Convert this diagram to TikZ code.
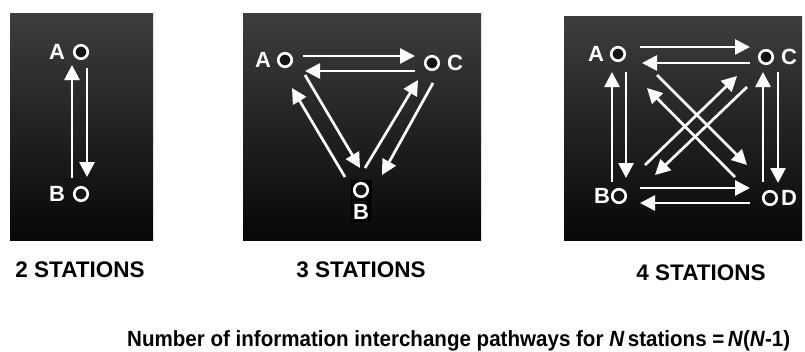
\documentclass[tikz,border=0pt]{standalone}
\usepackage{fontspec}
\setmainfont{Liberation Sans}
\usepackage{graphicx}
\usetikzlibrary{arrows.meta,calc}
\tikzset{
  panel/.style={draw=none, top color=black!76, bottom color=black!97, inner sep=0pt},
  stn/.style={circle, draw=white, line width=2.6pt, fill=black!92, minimum size=13.5pt, inner sep=0pt},
  lbl/.style={text=white, font=\bfseries\fontsize{22}{22}\selectfont, inner sep=0pt},
  captxt/.style={text=black, font=\bfseries\fontsize{22.5}{24}\selectfont, inner sep=0pt},
  arr/.style={draw=white, line width=2.7pt, -{Triangle[width=15pt,length=15pt]}}
}
\begin{document}
\begin{tikzpicture}[x=1pt,y=-1pt]
\useasboundingbox[fill=white] (0,0) rectangle (805,351);
% panels
\node[panel, minimum width=143pt, minimum height=227pt] (P1) at (81.5,126.5) {};
\node[panel, minimum width=238pt, minimum height=227pt] (P2) at (362,126.5) {};
\node[panel, minimum width=238pt, minimum height=224pt] (P3) at (683,128) {};
% ---- panel 1 ----
\node[stn] (A1) at (81,52) {};
\node[lbl] (lA1) at (57,52) {A};
\node[stn] (B1) at (81,194) {};
\node[lbl] (lB1) at (57,194) {B};
\draw[arr] ($(B1)+(-9,-16)$) -- ($(A1)+(-9,13)$);
\draw[arr] ($(A1)+(6,16)$) -- ($(B1)+(6,-17)$);
% ---- panel 2 ----
\node[fill=black, minimum size=21pt, inner sep=0pt] (bx2) at (361,190) {};
\node[stn] (A2) at (285,60) {};
\node[lbl] (lA2) at (263,60) {A};
\node[stn] (C2) at (432,63) {};
\node[lbl] (lC2) at (455,63) {C};
\node[stn] (B2) at (361,190) {};
\node[lbl, fill=black, inner sep=2pt] (lB2) at (361,212) {B};
\draw[arr] ($(A2)+(18,-4)$) -- ($(C2)+(-17,-7)$);
\draw[arr] ($(C2)+(-17,8)$) -- ($(A2)+(20,11)$);
\draw[arr] ($(A2)+(20,15)$) -- ($(B2)+(-1,-22)$);
\draw[arr] ($(B2)+(-16,-13)$) -- ($(A2)+(7,28)$);
\draw[arr] ($(B2)+(4,-22)$) -- ($(C2)+(-14,17)$);
\draw[arr] ($(C2)+(1,20)$) -- ($(B2)+(21,-15)$);
% ---- panel 3 ----
\node[stn] (A3) at (618,54) {};
\node[lbl] (lA3) at (596,54) {A};
\node[stn] (C3) at (766,57) {};
\node[lbl] (lC3) at (789,57) {C};
\node[stn] (B3) at (619,196) {};
\node[lbl] (lB3) at (602,196) {B};
\node[stn] (D3) at (770,198) {};
\node[lbl] (lD3) at (789,198) {D};
\draw[arr] ($(A3)+(22,-7)$) -- ($(C3)+(-16,-10)$);
\draw[arr] ($(C3)+(-16,6)$) -- ($(A3)+(24,9)$);
\draw[arr] ($(B3)+(21,-8)$) -- ($(D3)+(-20,-10)$);
\draw[arr] ($(D3)+(-20,5)$) -- ($(B3)+(21,7)$);
\draw[arr] ($(A3)+(8,18)$) -- ($(B3)+(7,-18)$);
\draw[arr] ($(B3)+(-7,-14)$) -- ($(A3)+(-6,18)$);
\draw[arr] ($(C3)+(12,15)$) -- ($(D3)+(8,-15)$);
\draw[arr] ($(D3)+(-7,-16)$) -- ($(C3)+(-3,15)$);
\draw[arr] ($(A3)+(39,21)$) -- ($(D3)+(-23,-33)$);
\draw[arr] ($(D3)+(-35,-21)$) -- ($(A3)+(29,34)$);
\draw[arr] ($(B3)+(26,-31)$) -- ($(C3)+(-29,19)$);
\draw[arr] ($(C3)+(-19,30)$) -- ($(B3)+(36,-21)$);
% captions
\node[captxt] (t1) at (80,270) {2 STATIONS};
\node[captxt] (t2) at (361,270) {3 STATIONS};
\node[captxt] (t3) at (701,273) {4 STATIONS};
\node[anchor=base west, inner sep=0pt, font=\bfseries\fontsize{22}{24}\selectfont] (f) at (127,346)
  {\resizebox{663pt}{\height}{Number of information interchange pathways for \textit{N}\,stations =\,\textit{N}(\textit{N}-1)}};
\end{tikzpicture}
\end{document}
